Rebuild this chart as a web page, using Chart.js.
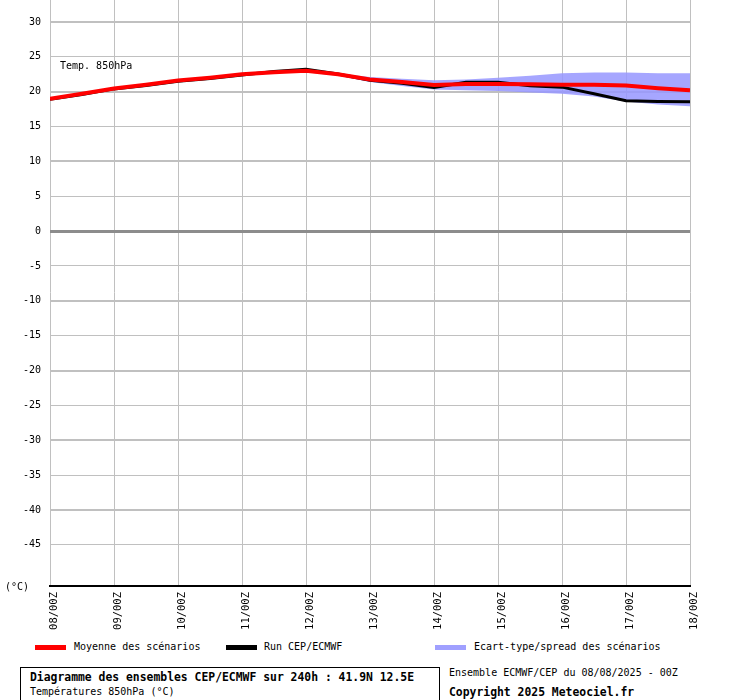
<!DOCTYPE html>
<html><head><meta charset="utf-8">
<script src="https://cdn.jsdelivr.net/npm/chart.js@4/dist/chart.umd.min.js"></script>
<style>
html,body{margin:0;padding:0;background:#fff;}
#wrap{position:relative;width:740px;height:700px;overflow:hidden;font-family:"DejaVu Sans Mono",monospace;color:#000;}
#c{position:absolute;left:0;top:0;}
.t{position:absolute;white-space:nowrap;font-size:10px;line-height:12px;}
.b{font-weight:bold;font-size:11.4px;line-height:14px;}
.sw{position:absolute;height:5px;width:31px;}
#box{position:absolute;left:20px;top:667px;width:418px;height:40px;border:1px solid #000;}
</style></head>
<body><div id="wrap">
<canvas id="c" width="740" height="641"></canvas>
<div class="t" style="left:60px;top:60px">Temp. 850hPa</div>
<div class="t" style="left:5px;top:581px">(°C)</div>
<div class="sw" style="left:35px;top:645px;background:#ff0000"></div>
<div class="t" style="left:74px;top:641px">Moyenne des scénarios</div>
<div class="sw" style="left:226px;top:645px;background:#000"></div>
<div class="t" style="left:264px;top:641px">Run CEP/ECMWF</div>
<div class="sw" style="left:435px;top:645px;background:#a0a0ff"></div>
<div class="t" style="left:474px;top:641px">Ecart-type/spread des scénarios</div>
<div id="box"></div>
<div class="t b" style="left:30px;top:670px">Diagramme des ensembles CEP/ECMWF sur 240h : 41.9N 12.5E</div>
<div class="t" style="left:30px;top:686px">Températures 850hPa (°C)</div>
<div class="t" style="left:449px;top:667px">Ensemble ECMWF/CEP du 08/08/2025 - 00Z</div>
<div class="t b" style="left:449px;top:685px">Copyright 2025 Meteociel.fr</div>
</div>
<script>
const hours = [0,12,24,36,48,60,72,84,96,108,120,132,144,156,168,180,192,204,216,228,240];
const dayLabels = ["08/00Z","09/00Z","10/00Z","11/00Z","12/00Z","13/00Z","14/00Z","15/00Z","16/00Z","17/00Z","18/00Z"];
const dayTickHours = [0,24,48,72,96,120,144,168,192,216,240];
const yTickValues = [30,25,20,15,10,5,0,-5,-10,-15,-20,-25,-30,-35,-40,-45];
const meanValues = [19.0,19.7,20.45,21.0,21.6,22.0,22.5,22.8,23.0,22.5,21.75,21.4,20.95,21.1,21.1,21.05,21.0,21.0,20.9,20.5,20.2];
const runValues = [18.9,19.6,20.4,20.9,21.5,21.9,22.4,22.9,23.2,22.55,21.65,21.2,20.6,21.35,21.35,20.85,20.65,19.7,18.7,18.6,18.55];
const spreadUpper = [19.1,19.8,20.6,21.15,21.7,22.15,22.65,22.9,23.0,22.6,22.1,21.85,21.65,21.75,22.0,22.3,22.65,22.75,22.75,22.65,22.65];
const spreadLower = [18.9,19.6,20.35,20.9,21.45,21.9,22.35,22.7,22.8,22.3,21.4,20.8,20.3,20.2,20.1,19.9,19.7,19.3,18.6,18.15,17.9];

const pts = arr => arr.map((v,i)=>({x:hours[i],y:v}));
const FONT = {family:'"DejaVu Sans Mono", monospace', size:10};

new Chart(document.getElementById('c'), {
  type:'line',
  data:{datasets:[
    {label:'Moyenne des scénarios', data:pts(meanValues), borderColor:'#ff0000', borderWidth:4, pointRadius:0, fill:false, tension:0},
    {label:'Run CEP/ECMWF', data:pts(runValues), borderColor:'#000000', borderWidth:3, pointRadius:0, fill:false, tension:0},
    {label:'spread+', data:pts(spreadUpper), borderColor:'rgba(0,0,0,0)', borderWidth:0, pointRadius:0, fill:'+1', backgroundColor:'rgba(150,150,255,0.85)', tension:0},
    {label:'spread-', data:pts(spreadLower), borderColor:'rgba(0,0,0,0)', borderWidth:0, pointRadius:0, fill:false, tension:0}
  ]},
  options:{
    responsive:false, animation:false, devicePixelRatio:1,
    layout:{padding:{left:0,right:50,top:0,bottom:0}},
    plugins:{legend:{display:false}, tooltip:{enabled:false}},
    scales:{
      x:{type:'linear', min:0, max:240,
        afterBuildTicks:s=>{s.ticks = dayTickHours.map(v=>({value:v}));},
        afterFit:s=>{s.height=55; s.paddingLeft=0; s.paddingRight=0;},
        ticks:{callback:(v)=>dayLabels[dayTickHours.indexOf(v)], minRotation:90, maxRotation:90, autoSkip:false, padding:6, labelOffset:4, color:'#000', font:{family:FONT.family,size:10.5}},
        grid:{color:'#c0c0c0', lineWidth:1, drawTicks:false},
        border:{display:true, color:'#000', width:2}
      },
      y:{type:'linear', min:-50.9, max:33.15,
        afterBuildTicks:s=>{s.ticks = yTickValues.map(v=>({value:v}));},
        afterFit:s=>{s.width=50; s.paddingTop=0; s.paddingBottom=0;},
        ticks:{padding:9, color:'#000', font:FONT},
        grid:{drawTicks:false,
          color:c=>c.tick && c.tick.value===0 ? '#8c8c8c' : '#c0c0c0',
          lineWidth:c=>{const v=c.tick?c.tick.value:1; return v===0?3:(v%10===0?2:1);}},
        border:{display:false}
      }
    }
  }
});
</script>
</body></html>
